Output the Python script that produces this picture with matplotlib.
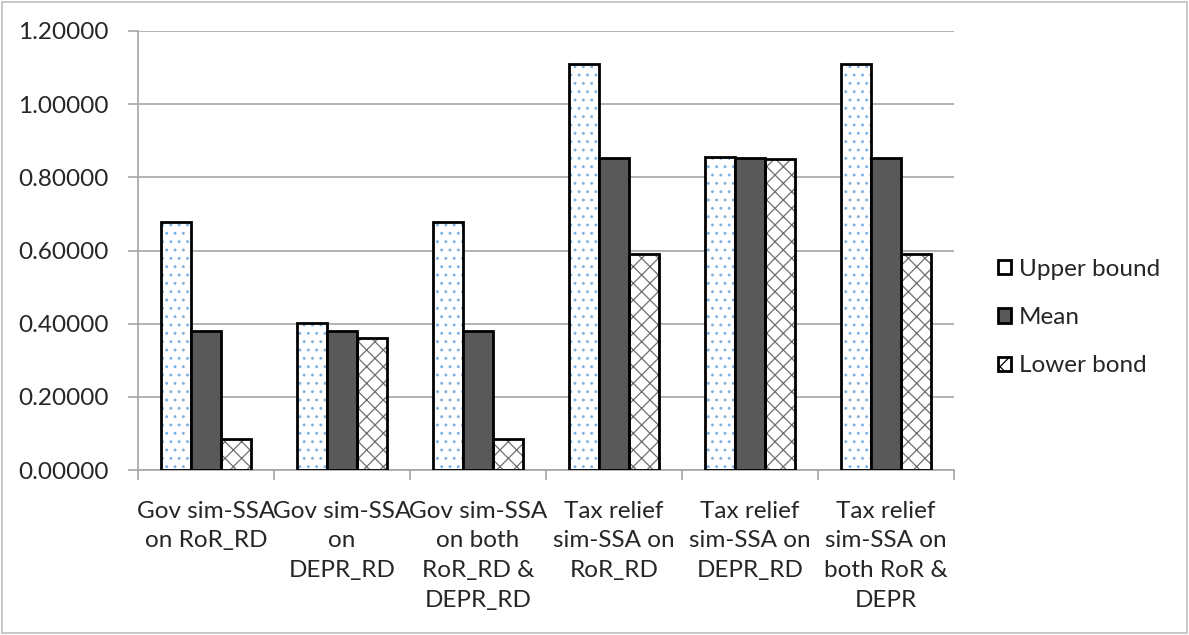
import matplotlib
matplotlib.use("Agg")
import matplotlib.pyplot as plt
import numpy as np
from matplotlib.patches import Patch, Rectangle
from matplotlib.ticker import FixedLocator, NullFormatter

# ---- data ----
categories = [
    "Gov sim-SSA\non RoR_RD",
    "Gov sim-SSA\non\nDEPR_RD",
    "Gov sim-SSA\non both\nRoR_RD &\nDEPR_RD",
    "Tax relief\nsim-SSA on\nRoR_RD",
    "Tax relief\nsim-SSA on\nDEPR_RD",
    "Tax relief\nsim-SSA on\nboth RoR &\nDEPR",
]
upper_bound = [0.679, 0.401, 0.679, 1.111, 0.855, 1.111]
mean_vals = [0.381, 0.381, 0.381, 0.852, 0.852, 0.852]
lower_bond = [0.084, 0.360, 0.084, 0.590, 0.851, 0.590]
series_names = ["Upper bound", "Mean", "Lower bond"]
y_ticks = [0.0, 0.2, 0.4, 0.6, 0.8, 1.0, 1.2]

plt.rcParams["font.family"] = ["Lato", "DejaVu Sans"]
plt.rcParams["hatch.linewidth"] = 0.9

FS = 17.5
TXT = "#262626"
GRID = "#A6A6A6"

fig = plt.figure(figsize=(11.89, 6.35), dpi=100)
ax = fig.add_axes([0.116, 0.2598, 0.6864, 0.6914])

x = np.arange(len(categories))
w = 1 / 4.5
edge_lw = 2.0

# Upper bound: white with sparse blue dots
ax.bar(x - w, upper_bound, w, color="white", edgecolor="#7FB2E0",
       hatch="..", linewidth=0, zorder=2)
ax.bar(x - w, upper_bound, w, fill=False, edgecolor="black",
       linewidth=edge_lw, zorder=3)
# Mean: solid dark grey
ax.bar(x, mean_vals, w, color="#595959", edgecolor="black",
       linewidth=edge_lw, zorder=3)
# Lower bond: diamond lattice
ax.bar(x + w, lower_bond, w, color="white", edgecolor="#6E6E6E",
       hatch="xx", linewidth=0, zorder=2)
ax.bar(x + w, lower_bond, w, fill=False, edgecolor="black",
       linewidth=edge_lw, zorder=3)

ax.set_xlim(-0.5, len(categories) - 0.5)
ax.set_ylim(0, 1.2)
ax.set_yticks(y_ticks)
ax.set_yticklabels([f"{v:.5f}" for v in y_ticks])
ax.yaxis.grid(True, color=GRID, linewidth=1.2, zorder=0)
ax.set_axisbelow(True)

# boundary ticks between categories, labels at category centres
ax.xaxis.set_major_locator(FixedLocator(np.arange(-0.5, len(categories), 1.0)))
ax.xaxis.set_major_formatter(NullFormatter())
ax.xaxis.set_minor_locator(FixedLocator(x))
ax.set_xticklabels(categories, minor=True)
ax.tick_params(axis="x", which="major", length=7, color=GRID, width=1.2,
               direction="out")
ax.tick_params(axis="x", which="minor", length=0, pad=22, labelsize=FS,
               labelcolor=TXT)
for lbl in ax.get_xticklabels(minor=True):
    lbl.set_linespacing(1.52)
ax.tick_params(axis="y", length=7, color=GRID, width=1.2, pad=14,
               labelsize=FS, labelcolor=TXT)

for side in ("top", "right"):
    ax.spines[side].set_visible(False)
for side in ("left", "bottom"):
    ax.spines[side].set_color(GRID)
    ax.spines[side].set_linewidth(1.2)

# legend
h_upper = Patch(facecolor="white", edgecolor="black", linewidth=edge_lw)
h_mean = Patch(facecolor="#595959", edgecolor="black", linewidth=edge_lw)
h_lower = Patch(facecolor="white", edgecolor="black", linewidth=edge_lw, hatch="x")
fig.legend([h_upper, h_mean, h_lower], series_names,
           loc="center left", bbox_to_anchor=(0.821, 0.5),
           frameon=False, fontsize=FS, labelcolor=TXT,
           handlelength=0.55, handleheight=0.55, handletextpad=0.3,
           labelspacing=1.13)

# outer chart border
fig.patches.append(Rectangle((0.002, 0.003), 0.996, 0.994, transform=fig.transFigure,
                             fill=False, edgecolor="#BFBFBF", linewidth=1.2))

fig.savefig("out.png", dpi=100)
